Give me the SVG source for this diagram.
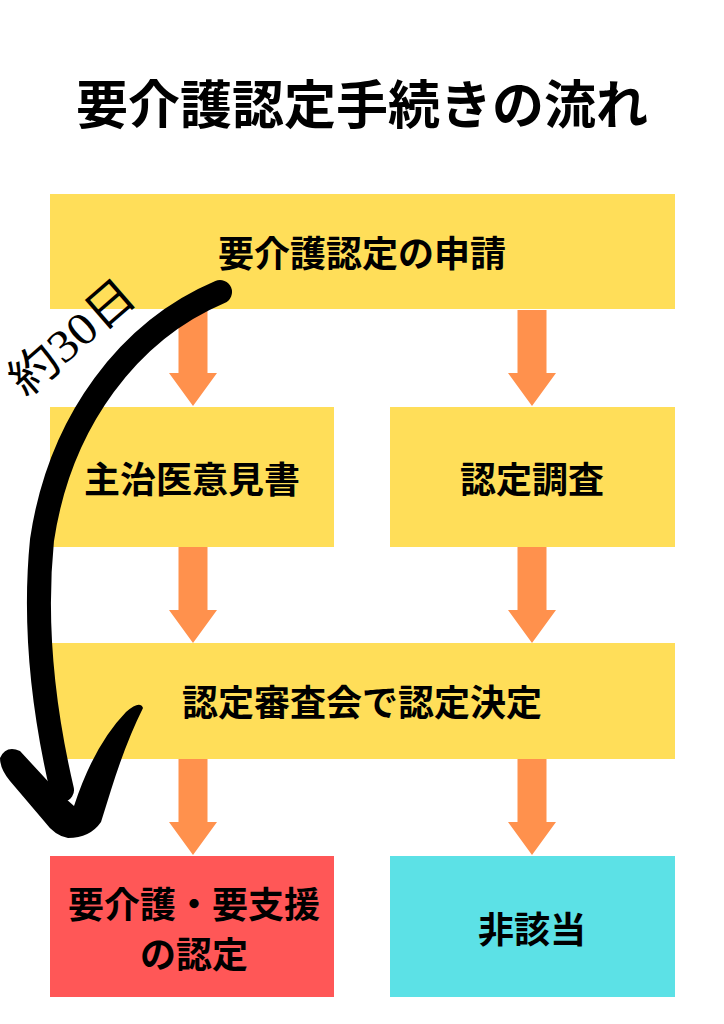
<svg xmlns="http://www.w3.org/2000/svg" width="724" height="1024" viewBox="0 0 724 1024">
<defs>
<style>
.box-y{fill:#FFDE59}
.box-r{fill:#FF5757}
.box-c{fill:#5CE1E6}
.lbl{font-family:"Noto Sans CJK JP","Noto Sans CJK SC",sans-serif;font-weight:700;fill:#000;text-anchor:middle}
.arr{fill:#FF914D}
</style>
<path id="dn" d="M-14.5,0 H14.5 V63 H24 L0,96 L-24,63 H-14.5 Z"/>
</defs>
<rect width="724" height="1024" fill="#fff"/>
<text class="lbl" x="362" y="124" font-size="52">要介護認定手続きの流れ</text>

<g id="connectors" class="arr">
<use href="#dn" x="193" y="310"/>
<use href="#dn" x="532" y="310"/>
<use href="#dn" x="193" y="547"/>
<use href="#dn" x="532" y="547"/>
<use href="#dn" x="193" y="759"/>
<use href="#dn" x="532" y="759"/>
</g>

<g id="n-apply"><rect class="box-y" x="50" y="194" width="625" height="115"/><text class="lbl" x="362" y="267" font-size="36">要介護認定の申請</text></g>
<g id="n-opinion"><rect class="box-y" x="50" y="407" width="284" height="140"/><text class="lbl" x="192" y="493" font-size="36">主治医意見書</text></g>
<g id="n-survey"><rect class="box-y" x="390" y="407" width="285" height="140"/><text class="lbl" x="532" y="493" font-size="36">認定調査</text></g>
<g id="n-review"><rect class="box-y" x="50" y="643" width="625" height="116"/><text class="lbl" x="362" y="716" font-size="36">認定審査会で認定決定</text></g>
<g id="n-certified"><rect class="box-r" x="50" y="856" width="284" height="141"/><text class="lbl" x="194" y="918" font-size="36">要介護・要支援</text><text class="lbl" x="194" y="968" font-size="36">の認定</text></g>
<g id="n-notapplicable"><rect class="box-c" x="390" y="856" width="285" height="141"/><text class="lbl" x="532" y="943" font-size="36">非該当</text></g>

<g id="duration">
<path d="M220,292 C130,330 60,420 42,540 C32,640 48,730 62,790" fill="none" stroke="#000" stroke-width="24" stroke-linecap="round"/>
<path d="M0,758 Q6,745 20,751 L56,790 L74,806 Q94,745 126,712 Q140,700 143,708 Q126,742 111,790 L101,822 Q90,838 68,838 Q55,836 44,821 L10,781 Q0,769 0,758 Z" fill="#000"/>
<text x="0" y="0" transform="translate(26,398) rotate(-41)" font-family="'Liberation Serif','Noto Sans CJK JP',serif" font-size="46" textLength="150" lengthAdjust="spacingAndGlyphs">約30日</text>
</g>
</svg>
